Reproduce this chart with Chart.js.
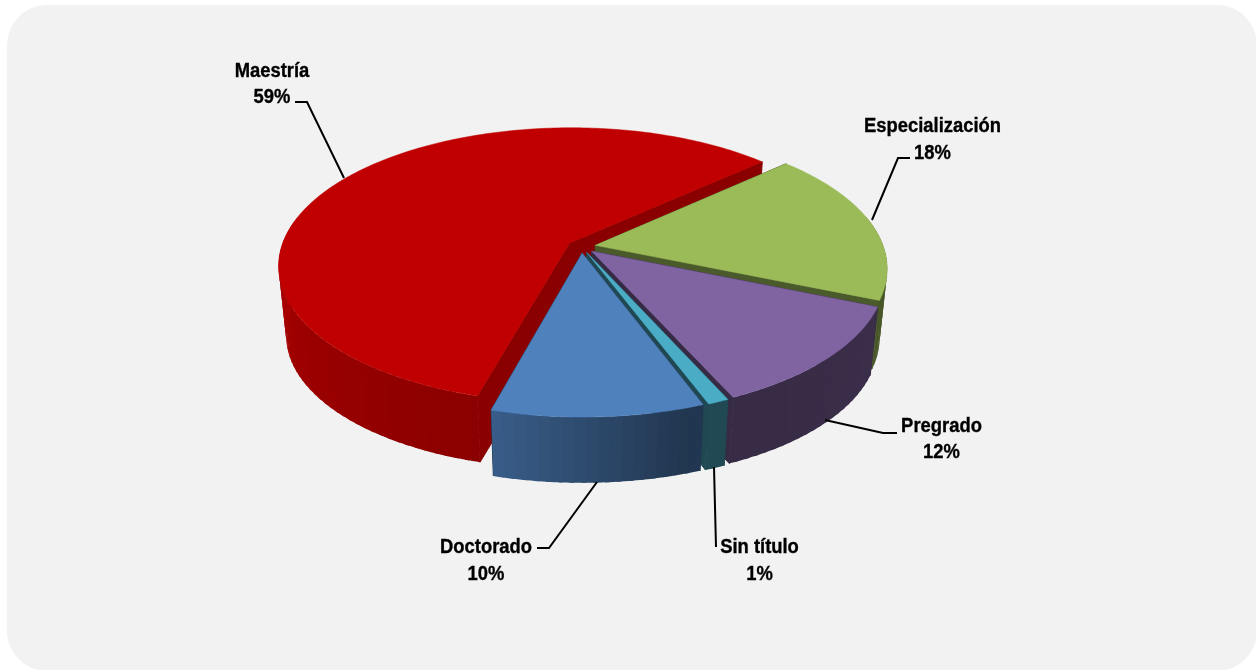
<!DOCTYPE html>
<html lang="es">
<head>
<meta charset="utf-8">
<title>Nivel de formación</title>
<script src="https://cdn.jsdelivr.net/npm/chart.js@4/dist/chart.umd.min.js"></script>
<style>
    html, body { margin: 0; padding: 0; background: #fff; overflow: hidden; }
    #panel { position: absolute; left: 7px; top: 5px; width: 1250px; height: 666px; background: #f2f2f2; border-radius: 40px; }
    #chart { position: absolute; left: 0; top: 0; }
</style>
</head>
<body>
<div id="panel"></div>
<canvas id="chart" width="1256" height="670"></canvas>
<script>
const categories = ['Especialización', 'Pregrado', 'Sin título', 'Doctorado', 'Maestría'];
const values = [18, 12, 1, 10, 59];
const colors = ['#9BBB59', '#8064A2', '#4BACC6', '#4F81BD', '#C00000'];
const cutShades = [0.48, 0.42, 0.42, 0.42, 0.72];

// back to front, so nearer slices cover the cut faces behind them
const paintOrder = [4, 0, 1, 2, 3];

// label position: centre x, first and second baseline, leader line points
const labelLayout = [
    { x: 932.5, y1: 132, y2: 159, line: [[910, 158], [898, 158], [872, 220]] },
    { x: 941.5, y1: 432, y2: 458, line: [[897, 433], [883, 433], [825, 420]] },
    { x: 759.5, y1: 553, y2: 580, line: [[716, 547], [714, 467]] },
    { x: 486, y1: 553, y2: 580, line: [[537, 548], [549, 548], [597, 482]] },
    { x: 272, y1: 77, y2: 103, line: [[295, 102], [307, 102], [344, 178]] },
];

// projection of the flat pie, Excel style 3D with perspective
const CX = 581.5, CY = 246.5;
const RX = 288, RY = 135, PERSP = 0.162;
const DEPTH = 70, BOTTOM_SCALE = 0.975;

// wall brightness by angle (degrees clockwise from the right)
const wallStops = [[0, 0.48], [72, 0.42], [105, 0.72], [180, 0.88], [270, 0.7], [360, 0.48]];
const WALL_BAND = 2 * Math.PI / 180;

function project(u, v, bottom) {
    const w = 1 / (1 - PERSP * v);
    let x = RX * u * w;
    let y = RY * v * w;
    if (bottom) {
        x *= BOTTOM_SCALE;
        y = y * BOTTOM_SCALE + DEPTH;
    }
    return [CX + x, CY + y];
}

function shade(hex, f) {
    const n = parseInt(hex.slice(1), 16);
    const r = Math.round(((n >> 16) & 255) * f);
    const g = Math.round(((n >> 8) & 255) * f);
    const b = Math.round((n & 255) * f);
    return `rgb(${r},${g},${b})`;
}

function wallBrightness(rad) {
    const deg = ((rad * 180 / Math.PI) % 360 + 360) % 360;
    for (let i = 1; i < wallStops.length; i++) {
        const [a0, b0] = wallStops[i - 1];
        const [a1, b1] = wallStops[i];
        if (deg <= a1) return b0 + (b1 - b0) * (deg - a0) / (a1 - a0);
    }
    return wallStops[0][1];
}

function fillPoly(ctx, pts, color, seam) {
    ctx.beginPath();
    pts.forEach((p, i) => (i ? ctx.lineTo(p[0], p[1]) : ctx.moveTo(p[0], p[1])));
    ctx.closePath();
    ctx.fillStyle = color;
    ctx.fill();
    if (seam) {
        ctx.strokeStyle = color;
        ctx.lineWidth = seam;
        ctx.stroke();
    }
}

function drawSlice(ctx, arc, color, cutShade) {
    const { startAngle, endAngle, outerRadius } = arc;
    const mid = (startAngle + endAngle) / 2;
    const off = arc.options.offset / outerRadius;
    const ox = Math.cos(mid) * off;
    const oy = Math.sin(mid) * off;
    const rim = (a, bottom) => project(ox + Math.cos(a), oy + Math.sin(a), bottom);

    // both cut faces first, the seam stroke runs under the wall so no light line shows
    const cut = shade(color, cutShade);
    [startAngle, endAngle].forEach((a) => {
        fillPoly(ctx, [project(ox, oy, false), rim(a, false), rim(a, true), project(ox, oy, true)], cut, 1);
    });

    // outer wall, only the part that faces the viewer. Each band runs under the next one
    const bands = Math.max(1, Math.ceil((endAngle - startAngle) / WALL_BAND));
    const step = (endAngle - startAngle) / bands;
    for (let i = 0; i < bands; i++) {
        const a0 = startAngle + step * i;
        const a1 = Math.min(a0 + step * 1.4, endAngle);
        if (Math.sin((a0 + a1) / 2) < -0.2) continue;
        const pts = [];
        for (let k = 0; k <= 4; k++) pts.push(rim(a0 + (a1 - a0) * k / 4, false));
        for (let k = 4; k >= 0; k--) pts.push(rim(a0 + (a1 - a0) * k / 4, true));
        fillPoly(ctx, pts, shade(color, wallBrightness(a0 + step / 2)));
    }

    // top face
    const top = [project(ox, oy, false)];
    const steps = Math.ceil((endAngle - startAngle) * 180 / Math.PI);
    for (let i = 0; i <= steps; i++) {
        top.push(rim(startAngle + (endAngle - startAngle) * i / steps, false));
    }
    fillPoly(ctx, top, color, 0.5);
}

function drawLabels(ctx) {
    ctx.textAlign = 'center';
    ctx.textBaseline = 'alphabetic';
    categories.forEach((name, i) => {
        const layout = labelLayout[i];
        ctx.beginPath();
        layout.line.forEach((p, j) => (j ? ctx.lineTo(p[0], p[1]) : ctx.moveTo(p[0], p[1])));
        ctx.strokeStyle = '#000';
        ctx.lineWidth = 2;
        ctx.stroke();

        ctx.save();
        ctx.font = 'bold 20px "Liberation Sans"';
        ctx.fillStyle = '#000';
        ctx.strokeStyle = '#000';
        ctx.lineWidth = 0.35;
        ctx.translate(layout.x, 0);
        ctx.scale(0.92, 1);
        [[name, layout.y1], [values[i] + '%', layout.y2]].forEach(([text, y]) => {
            ctx.fillText(text, 0, y);
            ctx.strokeText(text, 0, y);
        });
        ctx.restore();
    });
}

// the pie layout (angles, offsets) comes from Chart.js, only the painting is replaced
const pie3d = {
    id: 'pie3d',
    beforeDatasetsDraw(chart) {
        const arcs = chart.getDatasetMeta(0).data;
        const ctx = chart.ctx;
        ctx.save();
        paintOrder.forEach((i) => drawSlice(ctx, arcs[i], colors[i], cutShades[i]));
        drawLabels(ctx);
        ctx.restore();
        return false;
    },
};

new Chart(document.getElementById('chart'), {
    type: 'pie',
    data: {
        labels: categories,
        datasets: [{
            data: values,
            backgroundColor: colors,
            borderWidth: 0,
            offset: 16,
        }],
    },
    options: {
        responsive: false,
        animation: false,
        rotation: 47.75,
        events: [],
        plugins: {
            legend: { display: false },
            tooltip: { enabled: false },
        },
    },
    plugins: [pie3d],
});
</script>
</body>
</html>
